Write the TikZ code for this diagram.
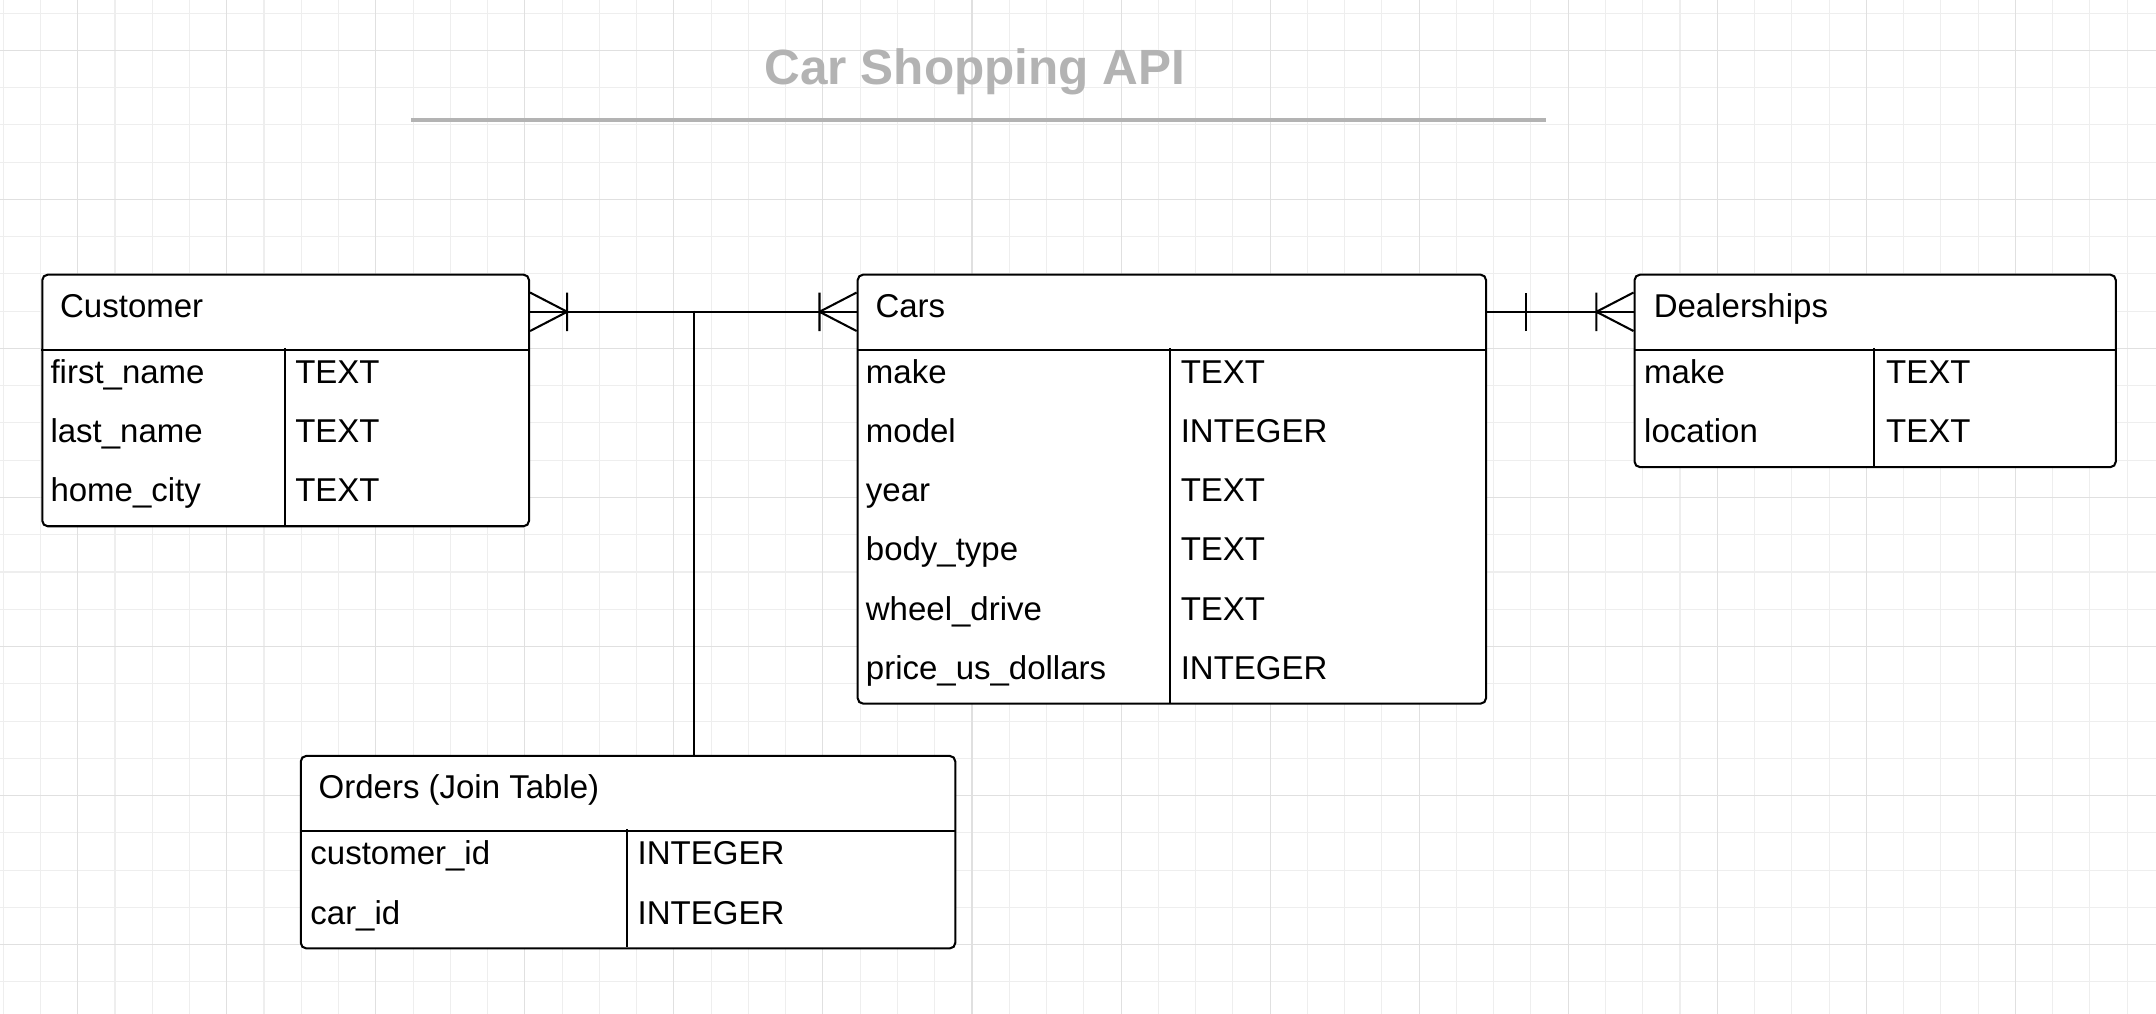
\documentclass[tikz,border=0pt]{standalone}
\usepackage{fontspec}
\setmainfont{Liberation Sans}
\definecolor{titlegray}{HTML}{B3B3B3}
\definecolor{gridminor}{HTML}{EEEEEE}
\definecolor{gridmajor}{HTML}{E0E0E0}

\tikzset{every picture/.style={line width=0.75pt}}
\tikzset{
  entity/.style={draw, fill=white, rounded corners=2pt, inner sep=0pt, anchor=north west},
  entityhead/.style={inner sep=0pt, anchor=north west, minimum height=27pt},
  headtext/.style={inner sep=0pt, anchor=base west, font=\fontsize{12}{14}\selectfont},
  fieldtext/.style={inner sep=0pt, anchor=base west, font=\fontsize{12}{14}\selectfont},
  titletext/.style={inner sep=0pt, anchor=base, text=titlegray, font=\fontsize{18}{22}\selectfont\bfseries},
  relline/.style={line width=0.75pt},
  manyend/.pic={\draw[relline] (0,-14) -- (27,0) -- (0,14) (27,-14) -- (27,14);},
  oneend/.pic={\draw[relline] (28,-14) -- (28,14);}
}

\begin{document}
\begin{tikzpicture}[x=0.5pt,y=0.5pt,yscale=-1,xscale=1]
\useasboundingbox (0,0) rectangle (1568,737.4);

%Grid
\fill[white] (0,0) rectangle (1568,737.4);
\foreach \gx in {0,...,57} \draw[gridminor, line width=0.4pt] ({2.3+27.1*\gx},0) -- ++(0,737.4);
\foreach \gy in {0,...,27} \draw[gridminor, line width=0.4pt] (0,{9.5+27.1*\gy}) -- ++(1568,0);
\foreach \gx in {0,...,14} \draw[gridmajor, line width=0.4pt] ({56.5+108.4*\gx},0) -- ++(0,737.4);
\foreach \gy in {0,...,6} \draw[gridmajor, line width=0.4pt] (0,{36.6+108.4*\gy}) -- ++(1568,0);

% Title
\node[titletext] (title) at (709,61.8) {Car Shopping API};
%Straight Lines
\draw[titlegray, line width=1.5pt] (299,87.5) -- (1124,87.5);

%Shape: Customer
\node[entity, minimum width=177pt, minimum height=91.5pt] (cust) at (30,199) {};
\node[entityhead, minimum width=177pt] (custhead) at (30,199) {};
\draw (custhead.south west) -- (custhead.south east);
\draw (207,253) -- (207,382);

%Shape: Cars
\node[entity, minimum width=228.5pt, minimum height=156pt] (cars) at (623,199) {};
\node[entityhead, minimum width=228.5pt] (carshead) at (623,199) {};
\draw (carshead.south west) -- (carshead.south east);
\draw (851,253) -- (851,511);

%Shape: Dealerships
\node[entity, minimum width=175pt, minimum height=70pt] (deal) at (1188,199) {};
\node[entityhead, minimum width=175pt] (dealhead) at (1188,199) {};
\draw (dealhead.south west) -- (dealhead.south east);
\draw (1363,253) -- (1363,339);

%Shape: Orders
\node[entity, minimum width=238pt, minimum height=70pt] (ord) at (218,549) {};
\node[entityhead, minimum width=238pt] (ordhead) at (218,549) {};
\draw (ordhead.south west) -- (ordhead.south east);
\draw (456,603) -- (456,689);

%Relations
\draw[relline] (custhead.east) -- (carshead.west);
\draw[relline] (carshead.east) -- (dealhead.west);
\coordinate (ordjoin) at (505,226);
\draw[relline] (ordjoin) -- (ordjoin |- ordhead.north);
\pic at (custhead.east) {manyend};
\pic[rotate=180] at (carshead.west) {manyend};
\pic at (carshead.east) {oneend};
\pic[rotate=180] at (dealhead.west) {manyend};

% Text Node
\node[headtext] (custname) at (43,231) {Customer};
\node[fieldtext] (custf1) at (36,279) {first\_name};
\node[fieldtext] (custt1) at (214,279) {TEXT};
\node[fieldtext] (custf2) at (36,322) {last\_name};
\node[fieldtext] (custt2) at (214,322) {TEXT};
\node[fieldtext] (custf3) at (36,365) {home\_city};
\node[fieldtext] (custt3) at (214,365) {TEXT};
% Text Node
\node[headtext] (carsname) at (636,231) {Cars};
\node[fieldtext] (carsf1) at (629,279) {make};
\node[fieldtext] (carst1) at (858,279) {TEXT};
\node[fieldtext] (carsf2) at (629,322) {model};
\node[fieldtext] (carst2) at (858,322) {INTEGER};
\node[fieldtext] (carsf3) at (629,365) {year};
\node[fieldtext] (carst3) at (858,365) {TEXT};
\node[fieldtext] (carsf4) at (629,408) {body\_type};
\node[fieldtext] (carst4) at (858,408) {TEXT};
\node[fieldtext] (carsf5) at (629,451) {wheel\_drive};
\node[fieldtext] (carst5) at (858,451) {TEXT};
\node[fieldtext] (carsf6) at (629,494) {price\_us\_dollars};
\node[fieldtext] (carst6) at (858,494) {INTEGER};
% Text Node
\node[headtext] (dealname) at (1202,231) {Dealerships};
\node[fieldtext] (dealf1) at (1195,279) {make};
\node[fieldtext] (dealt1) at (1371,279) {TEXT};
\node[fieldtext] (dealf2) at (1195,322) {location};
\node[fieldtext] (dealt2) at (1371,322) {TEXT};
% Text Node
\node[headtext] (ordname) at (231,581) {Orders (Join Table)};
\node[fieldtext] (ordf1) at (225,629) {customer\_id};
\node[fieldtext] (ordt1) at (463,629) {INTEGER};
\node[fieldtext] (ordf2) at (225,672) {car\_id};
\node[fieldtext] (ordt2) at (463,672) {INTEGER};

\end{tikzpicture}
\end{document}
